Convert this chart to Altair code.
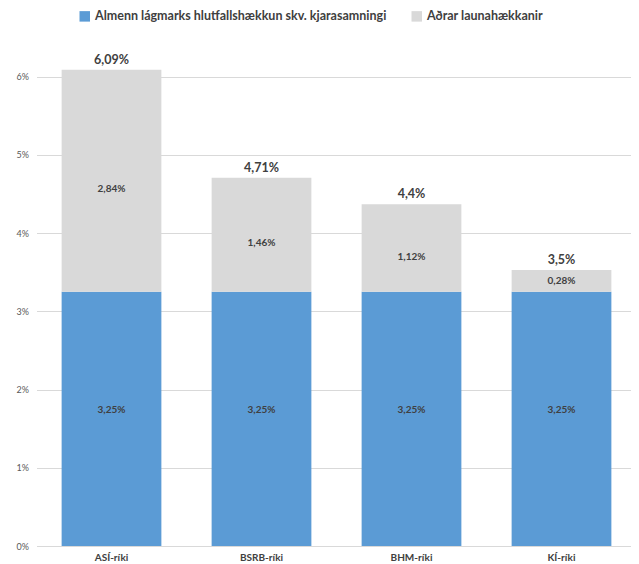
import altair as alt
import pandas as pd

categories = ["ASÍ-ríki", "BSRB-ríki", "BHM-ríki", "KÍ-ríki"]
series_names = ["Almenn lágmarks hlutfallshækkun skv. kjarasamningi", "Aðrar launahækkanir"]
base_values = [3.25, 3.25, 3.25, 3.25]
other_values = [2.84, 1.46, 1.12, 0.28]
base_labels = ["3,25%", "3,25%", "3,25%", "3,25%"]
other_labels = ["2,84%", "1,46%", "1,12%", "0,28%"]
total_labels = ["6,09%", "4,71%", "4,4%", "3,5%"]

rows = []
for i, c in enumerate(categories):
    rows.append({"cat": c, "series": series_names[0], "value": base_values[i], "label": base_labels[i], "ord": 0})
    rows.append({"cat": c, "series": series_names[1], "value": other_values[i], "label": other_labels[i], "ord": 1})
df = pd.DataFrame(rows)
tot = pd.DataFrame({"cat": categories,
                    "total": [b + o for b, o in zip(base_values, other_values)],
                    "label": total_labels})

FONT = "Lato"
x = alt.X("cat:N", sort=categories, title=None,
          scale=alt.Scale(paddingInner=0.335, paddingOuter=0.1675),
          axis=alt.Axis(labelAngle=0, labelFontWeight="bold", labelFontSize=10,
                        labelColor="#404040", labelFont=FONT, domainColor="#D9D9D9",
                        ticks=False, labelPadding=6))
yscale = alt.Scale(domain=[0, 6.47], nice=False)

bars = alt.Chart(df).mark_bar().encode(
    x=x,
    y=alt.Y("value:Q", stack="zero", scale=yscale, title=None,
            axis=alt.Axis(values=[0, 1, 2, 3, 4, 5, 6], labelExpr="datum.value + '%'",
                          labelFontSize=9, labelColor="#595959", labelFont=FONT,
                          gridColor="#D9D9D9", domain=False, ticks=False, labelPadding=8)),
    color=alt.Color("series:N", sort=series_names,
                    scale=alt.Scale(domain=series_names, range=["#5B9BD5", "#D9D9D9"]),
                    legend=alt.Legend(title=None, orient="none", direction="horizontal",
                                      legendX=42, legendY=-30, symbolType="square",
                                      symbolSize=110, symbolStrokeWidth=0,
                                      labelFont=FONT, labelFontSize=12.5, labelFontWeight="bold",
                                      labelColor="#404040", columnPadding=24, labelLimit=400)),
    order=alt.Order("ord:Q"),
)

seg_text = alt.Chart(df).transform_stack(
    stack="value", groupby=["cat"], as_=["y0", "y1"], sort=[alt.SortField("ord")]
).transform_calculate(
    mid="(datum.y0 + datum.y1) / 2 + (datum.ord == 0 ? 0.12 : (datum.value > 0.5 ? -0.11 : 0))"
).mark_text(
    font=FONT, fontSize=10, fontWeight="bold", color="#404040"
).encode(x=alt.X("cat:N", sort=categories), y=alt.Y("mid:Q", scale=yscale), text="label:N")

tot_text = alt.Chart(tot).mark_text(
    font=FONT, fontSize=12.5, fontWeight="bold", color="#404040", dy=-10
).encode(x=alt.X("cat:N", sort=categories), y=alt.Y("total:Q", scale=yscale), text="label:N")

chart = alt.layer(bars, seg_text, tot_text).properties(
    width=600, height=506,
    autosize=alt.AutoSizeParams(type="none"),
    padding={"left": 28.5, "top": 32, "right": -6, "bottom": 20},
).configure_view(stroke=None)

chart.save("out.html", embed_options={"renderer": "svg", "actions": False})
